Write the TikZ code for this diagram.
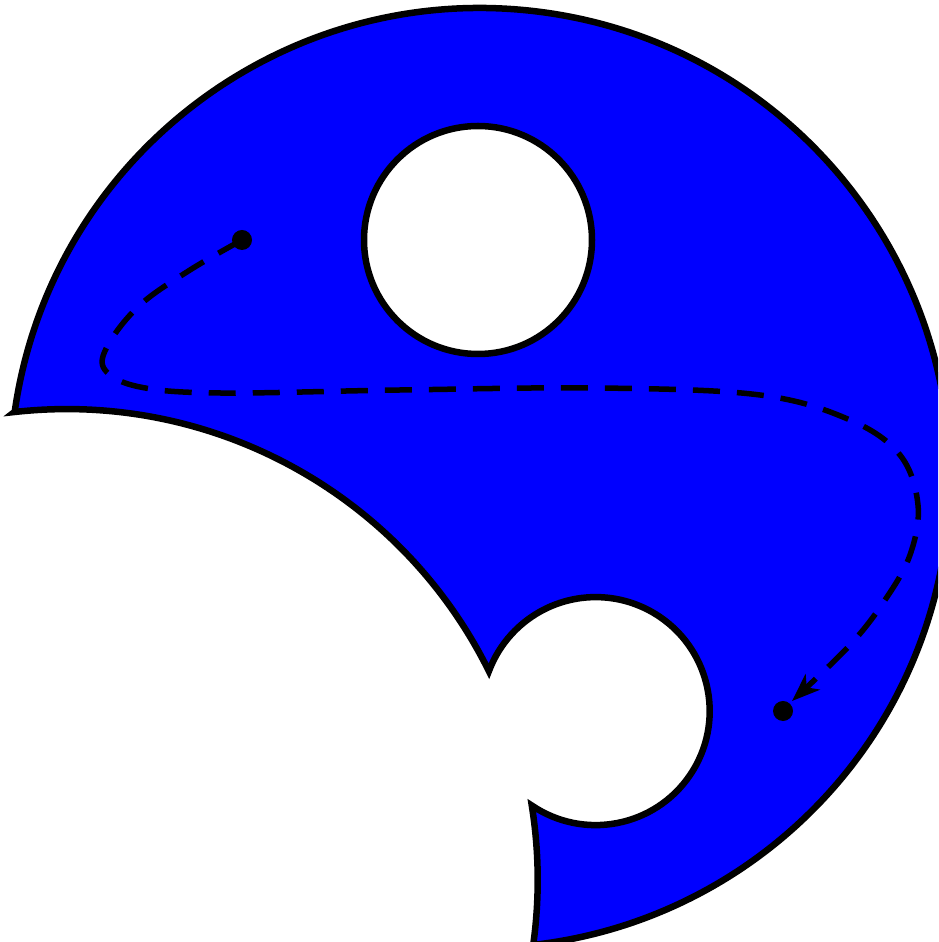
\documentclass[tikz,border=0pt]{standalone}
\usetikzlibrary{calc,arrows.meta}
\begin{document}
\begin{tikzpicture}[x=0.01cm,y=0.01cm,
  outline/.style={draw=black,line width=0.065cm,line join=miter},
  dashpath/.style={draw=black,line width=0.055cm,dash pattern=on 0.27cm off 0.17cm,
    -{Stealth[length=0.28cm,width=0.21cm,inset=0.08cm]}},
  dotnode/.style={circle,fill=black,inner sep=0pt,minimum size=0.2cm}]
\clip (0,0) rectangle (938,942);
% blue region: big disc minus two bites
\path[outline,fill=blue]
  ($(480,464)+(171.9:470)$) coordinate (i1)
  arc[start angle=171.9,end angle=-83.5,radius=470]
  arc[start angle=-7.93,end angle=9.10,radius=471]
  arc[start angle=235.9,end angle=519.5,radius=114]
  arc[start angle=26.33,end angle=96.39,radius=471]
  -- cycle;
% hole
\draw[outline,fill=white] (478,702) circle[radius=114];
% dots
\node[dotnode] (start) at (242,702) {};
\node[dotnode] (stop) at (783,231) {};
% dashed path
\draw[dashpath] plot[smooth,tension=0.6] coordinates {
  (242,702) (190,672) (140,637) (108,597) (105,572) (140,555) (220,549)
  (400,552) (600,554) (760,547) (850,522) (900,487) (918,437) (910,387)
  (885,342) (850,297) (792,241)};
\end{tikzpicture}
\end{document}
